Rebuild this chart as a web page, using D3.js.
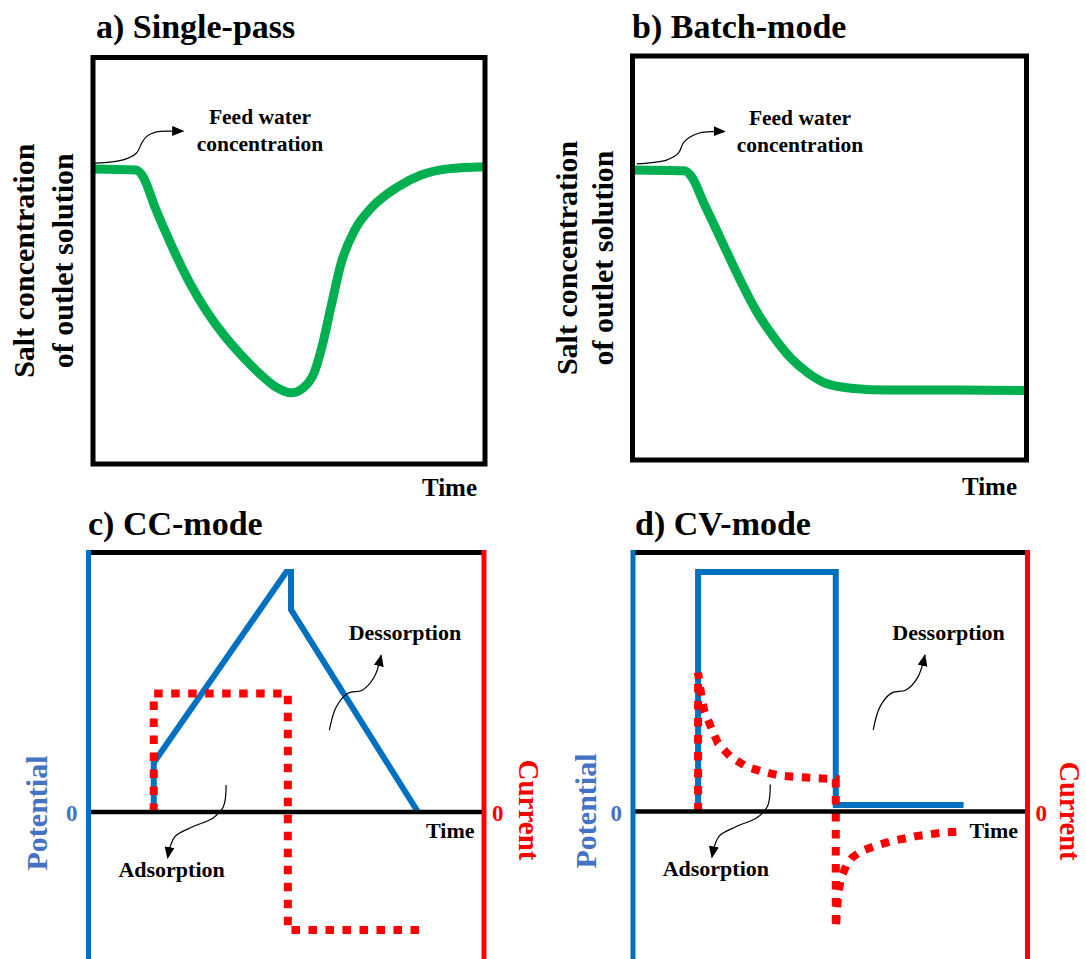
<!DOCTYPE html>
<html>
<head>
<meta charset="utf-8">
<script src="https://cdn.jsdelivr.net/npm/d3@7"></script>
<style>
  html, body { margin: 0; padding: 0; background: #fff; }
  svg { display: block; }
</style>
</head>
<body>
<svg id="chart" width="1086" height="959"></svg>
<script>
// ---------- labels ----------
const panelTitles = ["a) Single-pass", "b) Batch-mode", "c) CC-mode", "d) CV-mode"];
const concLabelLines = ["Salt concentration", "of outlet solution"];
const feedLabelLines = ["Feed water", "concentration"];
const timeLabel = "Time";
const potentialLabel = "Potential";
const currentLabel = "Current";
const zeroTick = "0";
const desorptionLabel = "Dessorption";
const adsorptionLabel = "Adsorption";

// ---------- a) single-pass: time (0-100) vs outlet salt concentration (0-1) ----------
const singlePassTime = [0, 11.0, 12.8, 15.8, 20.2, 24.7, 29.1, 33.4, 37.8, 42.3, 46.7, 50.5, 53.6, 56.4, 58.4, 60.7, 63.3, 66.8, 71.2, 77.6, 83.7, 90.6, 100];
const singlePassConc = [0.726, 0.723, 0.706, 0.632, 0.534, 0.445, 0.374, 0.317, 0.268, 0.224, 0.189, 0.175, 0.187, 0.224, 0.288, 0.386, 0.494, 0.576, 0.632, 0.681, 0.711, 0.726, 0.731];

// ---------- b) batch-mode ----------
const batchTime = [0, 13.2, 15.0, 18.1, 22.5, 26.9, 31.3, 35.8, 40.2, 44.6, 49.0, 56.1, 64.9, 82.6, 100];
const batchConc = [0.718, 0.716, 0.701, 0.636, 0.545, 0.454, 0.371, 0.305, 0.252, 0.215, 0.190, 0.177, 0.173, 0.173, 0.172];

// ---------- c) constant-current mode: potential and current (relative units) ----------
const ccPotentialTime = [16.5, 16.5, 50.0, 51.2, 51.2, 83.3];
const ccPotential = [0, 0.19, 0.925, 0.925, 0.78, 0];
const ccCurrentTime = [16.5, 16.5, 50.4, 50.4, 85.0];
const ccCurrent = [0, 0.457, 0.457, -0.455, -0.455];

// ---------- d) constant-voltage mode ----------
const cvPotentialTime = [16.5, 16.5, 51.4, 51.4, 83.8];
const cvPotential = [0, 0.925, 0.925, 0.025, 0.025];
const cvAdsTime = [16.5, 16.5, 17.3, 18.0, 19.7, 21.5, 24.6, 28.6, 32.5, 37.3, 41.8, 46.2, 51.4, 51.4];
const cvAdsCurrent = [0, 0.535, 0.45, 0.392, 0.328, 0.264, 0.213, 0.174, 0.155, 0.138, 0.133, 0.129, 0.125, -0.455];
const cvDesTime = [51.5, 52.0, 52.8, 54.1, 55.6, 57.8, 61.3, 65.7, 71.8, 78.1, 83.8];
const cvDesCurrent = [-0.435, -0.319, -0.254, -0.208, -0.177, -0.154, -0.133, -0.114, -0.095, -0.082, -0.076];

// ---------- annotation leader curves, in each panel's data units ----------
const feedArrowA = [[0.5, 0.740], [7.7, 0.748], [11.1, 0.765], [12.4, 0.789], [13.7, 0.806], [16.2, 0.817], [19.6, 0.819], [23.0, 0.819]];
const feedArrowB = [[1.1, 0.733], [8.8, 0.743], [11.7, 0.760], [12.9, 0.785], [14.7, 0.800], [17.2, 0.810], [20.4, 0.813], [23.4, 0.813]];
const desorptionArrow = [[60.9, 0.315], [62.6, 0.404], [65.6, 0.458], [69.2, 0.469], [72.2, 0.519], [74.0, 0.604]];
const adsorptionArrow = [[34.8, 0.104], [34.1, 0.020], [31.5, -0.023], [26.2, -0.058], [21.8, -0.096], [20.0, -0.177]];

// ---------- styles ----------
const GREEN = "#00b050", BLUE = "#0070c0", RED = "#ff0000", LABEL_BLUE = "#4472c4", INK = "#000";
const SERIF = "'Liberation Serif', 'Times New Roman', Tinos, 'DejaVu Serif', serif";

const svg = d3.select("#chart")
  .attr("font-family", SERIF)
  .attr("font-weight", "bold");
svg.append("rect").attr("width", 1086).attr("height", 959).attr("fill", "#fff");

const defs = svg.append("defs");
defs.append("marker")
  .attr("id", "head")
  .attr("viewBox", "0 0 12 10")
  .attr("refX", 11).attr("refY", 5)
  .attr("markerWidth", 12).attr("markerHeight", 10)
  .attr("markerUnits", "userSpaceOnUse")
  .attr("orient", "auto")
  .append("path").attr("d", "M0,0 L12,5 L0,10 Z").attr("fill", INK);

const zipXY = (xs, ys) => xs.map((x, i) => [x, ys[i]]);

function label(parent, str, size, fill) {
  return parent.append("text")
    .attr("font-family", SERIF).attr("font-weight", "bold")
    .attr("font-size", size).attr("fill", fill).text(str);
}

function title(x, y, str) {
  label(svg, str, 34, INK).attr("x", x).attr("y", y);
}

function leader(g, pts, sx, sy) {
  g.append("path")
    .attr("d", d3.line().x(d => sx(d[0])).y(d => sy(d[1])).curve(d3.curveCatmullRom.alpha(0.5))(pts))
    .attr("fill", "none").attr("stroke", INK).attr("stroke-width", 1.2)
    .attr("marker-end", "url(#head)");
}

// ---------- concentration panels (a, b) ----------
function concPanel(frame, t, c, arrow, feedPos, titleStr, ylabX) {
  const g = svg.append("g");
  const x = d3.scaleLinear().domain([0, 100]).range([frame.left, frame.right]);
  const y = d3.scaleLinear().domain([0, 1]).range([frame.bottom, frame.top]);

  title(frame.titleX, frame.titleY, titleStr);

  g.append("path")
    .attr("d", d3.line().x(d => x(d[0])).y(d => y(d[1])).curve(d3.curveMonotoneX)(zipXY(t, c)))
    .attr("fill", "none").attr("stroke", GREEN).attr("stroke-width", 9)
    .attr("stroke-linejoin", "round");

  g.append("rect")
    .attr("x", frame.left).attr("y", frame.top)
    .attr("width", frame.right - frame.left).attr("height", frame.bottom - frame.top)
    .attr("fill", "none").attr("stroke", INK).attr("stroke-width", 5);

  leader(g, arrow, x, y);
  feedLabelLines.forEach((s, i) => {
    label(g, s, 21.5, INK).attr("x", x(feedPos[0])).attr("y", y(feedPos[1][i]))
      .attr("text-anchor", "middle");
  });

  concLabelLines.forEach((s, i) => {
    label(g, s, 30, INK)
      .attr("transform", `translate(${ylabX[i]},${(frame.top + frame.bottom) / 2}) rotate(-90)`)
      .attr("text-anchor", "middle");
  });

  label(g, timeLabel, 25, INK).attr("x", frame.timeX).attr("y", frame.timeY)
    .attr("text-anchor", "end");
}

concPanel({ left: 93, right: 485, top: 57.5, bottom: 464, titleX: 96, titleY: 38, timeX: 477, timeY: 496 },
  singlePassTime, singlePassConc, feedArrowA, [42.6, [0.836, 0.769]], panelTitles[0], [34, 73]);
concPanel({ left: 632.5, right: 1026.5, top: 56, bottom: 460, titleX: 632, titleY: 38, timeX: 1017, timeY: 495 },
  batchTime, batchConc, feedArrowB, [42.5, [0.829, 0.763]], panelTitles[1], [577, 613]);

// ---------- electrical panels (c, d) ----------
function elecPanel(frame, potT, potV, currentSeries, titleStr) {
  const g = svg.append("g");
  const x = d3.scaleLinear().domain([0, 100]).range([frame.left, frame.right]);
  const y = d3.scaleLinear().domain([-1, 1]).range([frame.zero + (frame.zero - frame.top), frame.top]);
  const line = d3.line().x(d => x(d[0])).y(d => y(d[1]));

  title(frame.titleX, 535, titleStr);

  // potential trace (solid blue)
  g.append("path").attr("d", line(zipXY(potT, potV)))
    .attr("fill", "none").attr("stroke", BLUE).attr("stroke-width", 6)
    .attr("stroke-linejoin", "miter");

  // current trace (dotted red)
  currentSeries.forEach(([ts, vs]) => {
    g.append("path").attr("d", line(zipXY(ts, vs)))
      .attr("fill", "none").attr("stroke", RED).attr("stroke-width", 8)
      .attr("stroke-dasharray", "8.5 8.5").attr("stroke-linejoin", "miter");
  });

  // frame: top rule, zero line, coloured side axes
  g.append("line").attr("x1", x(0)).attr("x2", x(100)).attr("y1", frame.top).attr("y2", frame.top)
    .attr("stroke", INK).attr("stroke-width", 5);
  g.append("line").attr("x1", x(0)).attr("x2", x(100)).attr("y1", y(0)).attr("y2", y(0))
    .attr("stroke", INK).attr("stroke-width", 4.5);
  g.append("line").attr("x1", x(0)).attr("x2", x(0)).attr("y1", frame.top - 2.5).attr("y2", 965)
    .attr("stroke", BLUE).attr("stroke-width", 5);
  g.append("line").attr("x1", x(100)).attr("x2", x(100)).attr("y1", frame.top - 2.5).attr("y2", 965)
    .attr("stroke", RED).attr("stroke-width", 5);

  // zero ticks
  label(g, zeroTick, 23, LABEL_BLUE).attr("x", x(0) - 11).attr("y", y(0) + 9).attr("text-anchor", "end");
  label(g, zeroTick, 23, RED).attr("x", x(100) + 8).attr("y", y(0) + 9).attr("text-anchor", "start");

  // axis titles
  label(g, potentialLabel, 30, LABEL_BLUE)
    .attr("transform", `translate(${frame.potX},${frame.potY}) rotate(-90)`)
    .attr("text-anchor", "middle");
  label(g, currentLabel, frame.curSize, RED)
    .attr("transform", `translate(${frame.curX},${frame.curY}) rotate(90)`)
    .attr("text-anchor", "middle");

  label(g, timeLabel, 22, INK).attr("x", x(97.6)).attr("y", y(-0.102)).attr("text-anchor", "end");

  // annotations
  leader(g, desorptionArrow, x, y);
  leader(g, adsorptionArrow, x, y);
  label(g, desorptionLabel, 22, INK).attr("x", x(80)).attr("y", y(0.662)).attr("text-anchor", "middle");
  label(g, adsorptionLabel, 22, INK).attr("x", x(21)).attr("y", y(-0.249)).attr("text-anchor", "middle");
}

elecPanel({ left: 88.5, right: 484, top: 552.5, zero: 812, titleX: 88, potX: 47, potY: 813, curX: 519, curY: 810, curSize: 29 },
  ccPotentialTime, ccPotential, [[ccCurrentTime, ccCurrent]], panelTitles[2]);
elecPanel({ left: 633, right: 1027.5, top: 552.5, zero: 811.5, titleX: 635, potX: 596, potY: 811, curX: 1060, curY: 811, curSize: 28.5 },
  cvPotentialTime, cvPotential, [[cvAdsTime, cvAdsCurrent], [cvDesTime, cvDesCurrent]], panelTitles[3]);
</script>
</body>
</html>
